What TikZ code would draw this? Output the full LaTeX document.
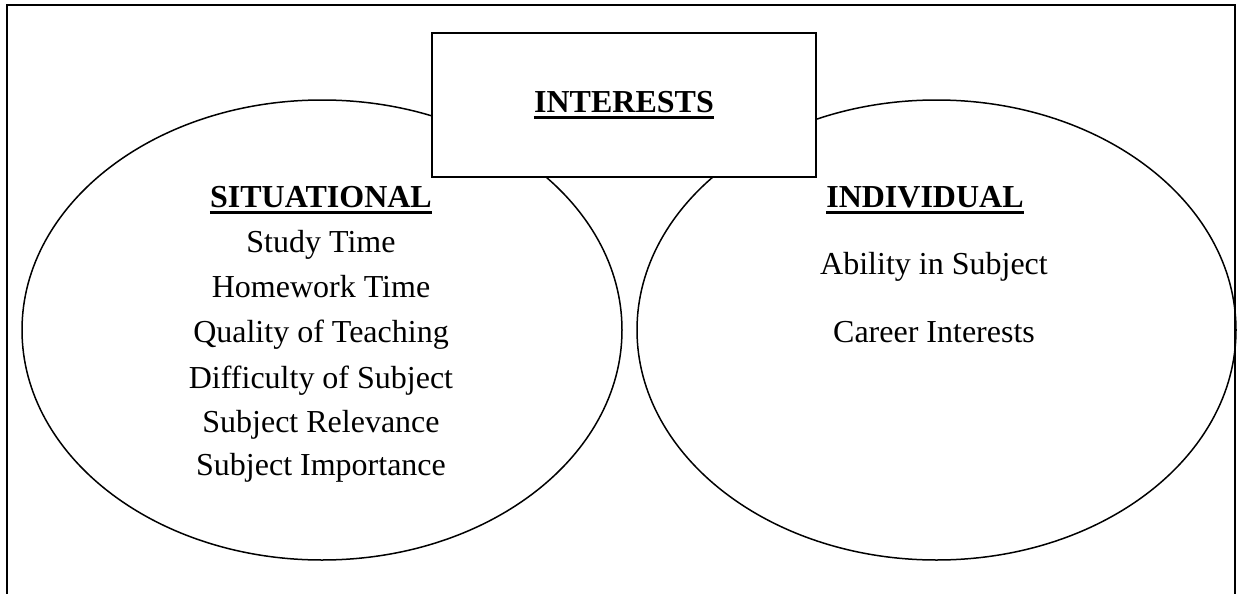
\documentclass[tikz,border=0pt]{standalone}
\usepackage{fontspec}
\setmainfont{Liberation Serif}
\usetikzlibrary{shapes.geometric}
\begin{document}
\begin{tikzpicture}[x=1pt,y=-1pt,
  frameline/.style={line width=2pt,black},
  oval/.style={ellipse,draw,line width=1.5pt,inner sep=0pt,outer sep=0pt},
  titlebox/.style={draw,line width=2pt,fill=white,inner sep=0pt},
  txt/.style={font=\fontsize{32}{38}\selectfont,anchor=base,inner sep=0pt},
  hd/.style={txt,font=\fontsize{32}{38}\selectfont\bfseries},
  ul/.style={line width=3pt}]
\useasboundingbox (0,0) rectangle (1237,594);
% outer frame (open at the bottom)
\coordinate (fbl) at (7,600);
\coordinate (ftl) at (7,5);
\coordinate (ftr) at (1235,5);
\coordinate (fbr) at (1235,600);
\draw[frameline] (fbl) -- (ftl) -- (ftr) -- (fbr);
% ovals
\node[oval,minimum width=600pt,minimum height=460pt] (sit) at (322,330) {};
\node[oval,minimum width=599pt,minimum height=460pt] (ind) at (936.5,330) {};
% title box
\node[titlebox,minimum width=384pt,minimum height=144pt] (box) at (624,105) {};
\node[hd] (int) at (624,112) {INTERESTS};
\draw[ul] ([yshift=-5.5pt]int.base west) -- ([yshift=-5.5pt]int.base east);
% situational
\node[hd] (sith) at (321,207) {SITUATIONAL};
\draw[ul] ([yshift=-5.5pt]sith.base west) -- ([yshift=-5.5pt]sith.base east);
\node[txt] (s1) at (321,252) {Study Time};
\node[txt] (s2) at (321,297) {Homework Time};
\node[txt] (s3) at (321,342) {Quality of Teaching};
\node[txt] (s4) at (321,388) {Difficulty of Subject};
\node[txt] (s5) at (321,432) {Subject Relevance};
\node[txt] (s6) at (321,475) {Subject Importance};
% individual
\node[hd] (indh) at (925,207) {INDIVIDUAL};
\draw[ul] ([yshift=-5.5pt]indh.base west) -- ([yshift=-5.5pt]indh.base east);
\node[txt] (i1) at (934,274) {Ability in Subject};
\node[txt] (i2) at (934,342) {Career Interests};
\end{tikzpicture}
\end{document}
